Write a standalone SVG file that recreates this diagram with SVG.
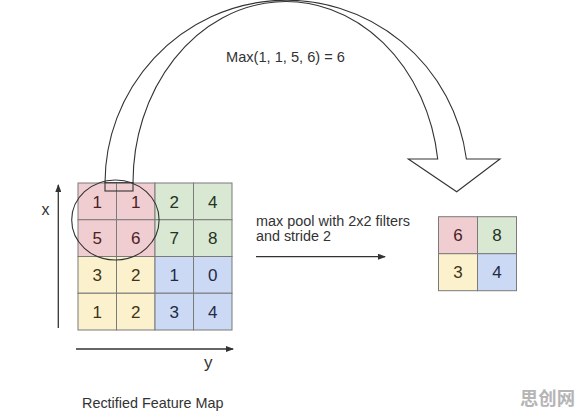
<svg xmlns="http://www.w3.org/2000/svg" width="583" height="416" viewBox="0 0 583 416">
<defs>
<marker id="ah" markerWidth="8" markerHeight="6" refX="7" refY="3" orient="auto" markerUnits="userSpaceOnUse">
<path d="M0,0 L8,3 L0,6 z" fill="#333"/>
</marker>
<style>
.c{stroke:#7a7a7a;stroke-width:1}
.pk{fill:#f0cdd0}.gr{fill:#d8e8d3}.ye{fill:#fcf1cd}.bl{fill:#cbd9f4}
.n{font-family:"Liberation Sans",Arial,sans-serif;font-size:17px;text-anchor:middle}
.tp{fill:#4a2226}.tg{fill:#23331f}.ty{fill:#3d341a}.tb{fill:#1f2a45}
.lbl{font-family:"Liberation Sans",Arial,sans-serif;fill:#333}
.ax{stroke:#333;stroke-width:1.3;fill:none}
</style>
</defs>
<rect width="583" height="416" fill="#fff"/>

<g id="feature-map">
<rect class="c pk" x="78" y="183" width="38.5" height="36.75"/>
<rect class="c pk" x="116.5" y="183" width="38.5" height="36.75"/>
<rect class="c gr" x="155" y="183" width="38.5" height="36.75"/>
<rect class="c gr" x="193.5" y="183" width="38.5" height="36.75"/>
<rect class="c pk" x="78" y="219.75" width="38.5" height="36.75"/>
<rect class="c pk" x="116.5" y="219.75" width="38.5" height="36.75"/>
<rect class="c gr" x="155" y="219.75" width="38.5" height="36.75"/>
<rect class="c gr" x="193.5" y="219.75" width="38.5" height="36.75"/>
<rect class="c ye" x="78" y="256.5" width="38.5" height="36.75"/>
<rect class="c ye" x="116.5" y="256.5" width="38.5" height="36.75"/>
<rect class="c bl" x="155" y="256.5" width="38.5" height="36.75"/>
<rect class="c bl" x="193.5" y="256.5" width="38.5" height="36.75"/>
<rect class="c ye" x="78" y="293.25" width="38.5" height="36.75"/>
<rect class="c ye" x="116.5" y="293.25" width="38.5" height="36.75"/>
<rect class="c bl" x="155" y="293.25" width="38.5" height="36.75"/>
<rect class="c bl" x="193.5" y="293.25" width="38.5" height="36.75"/>
<text class="n tp" x="97.2" y="207.5">1</text>
<text class="n tp" x="135.7" y="207.5">1</text>
<text class="n tg" x="174.2" y="207.5">2</text>
<text class="n tg" x="212.7" y="207.5">4</text>
<text class="n tp" x="97.2" y="244.2">5</text>
<text class="n tp" x="135.7" y="244.2">6</text>
<text class="n tg" x="174.2" y="244.2">7</text>
<text class="n tg" x="212.7" y="244.2">8</text>
<text class="n ty" x="97.2" y="281">3</text>
<text class="n ty" x="135.7" y="281">2</text>
<text class="n tb" x="174.2" y="281">1</text>
<text class="n tb" x="212.7" y="281">0</text>
<text class="n ty" x="97.2" y="317.7">1</text>
<text class="n ty" x="135.7" y="317.7">2</text>
<text class="n tb" x="174.2" y="317.7">3</text>
<text class="n tb" x="212.7" y="317.7">4</text>
<ellipse cx="115.4" cy="220" rx="43.7" ry="40" fill="none" stroke="#333" stroke-width="1.1"/>
<rect x="105" y="182.7" width="28" height="8.3" fill="none" stroke="#333" stroke-width="1.1"/>
</g>

<g id="pooled-map">
<rect class="c pk" x="438.5" y="216.7" width="39" height="37"/>
<rect class="c gr" x="477.5" y="216.7" width="39" height="37"/>
<rect class="c ye" x="438.5" y="253.7" width="39" height="37"/>
<rect class="c bl" x="477.5" y="253.7" width="39" height="37"/>
<text class="n tp" x="458" y="241.2">6</text>
<text class="n tg" x="497" y="241.2">8</text>
<text class="n ty" x="458" y="278.2">3</text>
<text class="n tb" x="497" y="278.2">4</text>
</g>

<g id="connectors">
<path d="M105,183 A181.5,183 0 0 1 466.4,159 L500,159 L456.7,191.7 L408.3,159 L437.7,159 A153,181 0 0 0 133,183" fill="none" stroke="#333" stroke-width="1.1"/>
<line class="ax" x1="58.3" y1="328" x2="58.3" y2="185" marker-end="url(#ah)"/>
<line class="ax" x1="76" y1="349" x2="233" y2="349" marker-end="url(#ah)"/>
<line class="ax" x1="256" y1="256.7" x2="385" y2="256.7" marker-end="url(#ah)"/>
</g>

<g id="labels">
<text class="lbl" x="226" y="61.7" font-size="15" textLength="119" lengthAdjust="spacingAndGlyphs">Max(1, 1, 5, 6) = 6</text>
<text class="lbl" x="256" y="226" font-size="14" textLength="154" lengthAdjust="spacingAndGlyphs">max pool with 2x2 filters</text>
<text class="lbl" x="256" y="240.7" font-size="14" textLength="75" lengthAdjust="spacingAndGlyphs">and stride 2</text>
<text class="lbl" x="41.5" y="215" font-size="16">x</text>
<text class="lbl" x="204" y="368" font-size="17">y</text>
<text class="lbl" x="82" y="408.3" font-size="15" textLength="141.5" lengthAdjust="spacingAndGlyphs">Rectified Feature Map</text>
<text x="520" y="405" font-family="'Noto Sans CJK SC',sans-serif" font-size="18" font-weight="bold" fill="#b5b5b5" textLength="55" lengthAdjust="spacingAndGlyphs">思创网</text>
</g>
</svg>
